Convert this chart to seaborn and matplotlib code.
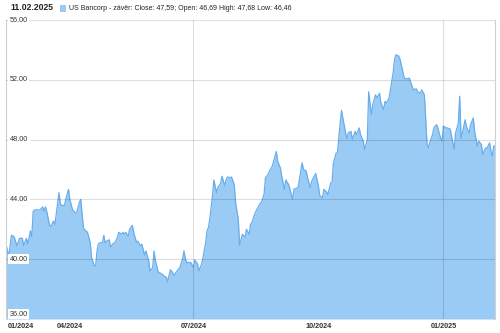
import matplotlib
matplotlib.use("Agg")
import matplotlib.pyplot as plt
import matplotlib.transforms as mtransforms
from matplotlib.patches import Rectangle
import seaborn as sns
import pandas as pd
import numpy as np

# ---------------- data ----------------
start_date = "2024-02-14"
day_offsets = [
    0, 2, 4, 6, 8, 10, 12, 13, 15, 16, 18, 19, 20, 21, 24, 25, 27, 28, 29, 30,
    32, 33, 35, 36, 38, 39, 40, 41, 43, 44, 46, 47, 49, 51, 52, 54, 55, 57, 58, 60,
    61, 62, 63, 65, 66, 67, 68, 69, 71, 72, 73, 74, 76, 77, 79, 80, 82, 83, 85, 86,
    87, 88, 90, 91, 93, 94, 96, 97, 99, 100, 102, 103, 105, 106, 108, 109, 110, 112, 113, 115,
    116, 118, 119, 121, 122, 124, 125, 127, 128, 130, 131, 132, 133, 135, 136, 138, 139, 141, 142, 144,
    145, 147, 148, 149, 150, 152, 153, 155, 156, 158, 159, 161, 162, 163, 165, 166, 168, 169, 171, 172,
    174, 176, 177, 179, 180, 181, 183, 184, 186, 187, 188, 190, 191, 193, 194, 196, 197, 199, 200, 202,
    203, 205, 206, 208, 209, 211, 212, 213, 215, 216, 218, 219, 221, 222, 224, 225, 227, 228, 230, 231,
    233, 234, 236, 237, 239, 240, 241, 243, 244, 246, 247, 248, 250, 251, 252, 254, 255, 257, 258, 260,
    261, 263, 264, 266, 267, 269, 270, 272, 273, 275, 276, 278, 279, 280, 282, 283, 285, 286, 287, 289,
    290, 291, 293, 294, 296, 297, 299, 300, 302, 303, 305, 306, 308, 309, 310, 311, 312, 314, 315, 317,
    318, 319, 320, 321, 322, 324, 325, 327, 328, 330, 331, 333, 334, 335, 336, 338, 339, 341, 342, 344,
    345, 347, 348, 350, 351, 353, 354, 356, 357, 358, 359, 360,
]
close_values = [
    41.0, 40.2, 41.6, 41.5, 40.9, 41.4, 41.4, 40.9, 41.4, 41.0, 41.9, 41.5, 43.2, 43.3, 43.3, 43.3, 43.5, 43.2, 43.5, 43.2,
    42.3, 42.2, 42.55, 42.3, 43.7, 44.45, 43.7, 43.6, 43.6, 44.0, 44.67, 44.0, 43.3, 43.1, 43.1, 43.8, 44.0, 42.1, 41.95, 41.8,
    41.45, 41.1, 40.1, 39.55, 39.55, 40.55, 41.0, 41.1, 41.1, 41.6, 41.1, 41.2, 41.3, 40.8, 41.07, 41.07, 41.45, 41.8, 41.67, 41.8,
    41.67, 41.8, 41.55, 42.0, 42.27, 41.8, 41.15, 41.2, 40.9, 41.0, 40.27, 40.55, 39.9, 39.2, 39.45, 40.55, 39.9, 39.15, 39.1, 39.0,
    38.9, 38.8, 38.5, 39.3, 39.2, 38.9, 39.1, 39.33, 39.45, 40.0, 40.55, 40.05, 39.78, 39.78, 39.78, 39.45, 39.95, 39.67, 39.22, 39.67,
    40.1, 41.1, 41.9, 42.1, 42.67, 44.2, 45.3, 44.45, 44.8, 45.07, 45.55, 44.93, 45.3, 45.5, 45.45, 45.5, 45.0, 43.8, 42.67, 40.93,
    41.67, 41.47, 42.0, 41.67, 42.33, 42.44, 43.0, 43.2, 43.55, 43.73, 43.8, 44.33, 45.45, 45.67, 45.9, 46.22, 46.55, 47.2, 46.55, 46.1,
    45.55, 44.67, 45.3, 45.0, 44.7, 44.0, 44.7, 44.7, 44.8, 45.33, 46.45, 46.0, 45.9, 45.45, 44.8, 45.2, 45.55, 45.73, 44.9, 44.25,
    44.1, 44.67, 44.5, 44.33, 45.1, 45.1, 46.4, 47.1, 47.1, 49.1, 49.95, 49.45, 48.45, 48.05, 48.45, 48.55, 48.0, 48.55, 48.33, 48.78,
    48.33, 47.9, 47.33, 48.0, 51.2, 49.67, 50.33, 51.0, 50.78, 51.1, 50.45, 50.0, 50.55, 50.45, 50.78, 51.33, 52.45, 53.33, 53.67, 53.6,
    53.4, 53.0, 52.2, 52.05, 52.1, 52.1, 51.55, 51.33, 51.4, 51.2, 51.1, 51.33, 51.0, 49.33, 47.67, 47.45, 47.8, 48.33, 48.78, 49.0,
    48.78, 48.4, 48.1, 47.9, 48.9, 48.78, 48.78, 48.7, 48.22, 47.37, 48.45, 49.1, 50.9, 48.1, 48.45, 49.33, 48.85, 48.45, 49.0, 49.45,
    48.55, 47.55, 47.9, 47.67, 47.0, 47.45, 47.4, 47.78, 47.22, 46.9, 47.55, 47.59,
]
tick_dates = ["2024-02-14", "2024-04-01", "2024-07-01", "2024-10-01", "2025-01-01"]
tick_labels = ["01/2024", "04/2024", "07/2024", "10/2024", "01/2025"]
vgrid_dates = ["2024-07-01", "2025-01-01"]
y_ticks = [36, 40, 44, 48, 52, 56]
header_date = "11.02.2025"
legend_text = "US Bancorp - závěr: Close: 47,59; Open: 46,69 High: 47,68 Low: 46,46"

assert len(day_offsets) == len(close_values), (len(day_offsets), len(close_values))

df = pd.DataFrame({
    "date": pd.Timestamp(start_date) + pd.to_timedelta(day_offsets, unit="D"),
    "close": close_values,
})

# ---------------- style ----------------
sns.set_theme(style="white")
plt.rcParams["font.family"] = ["Liberation Sans", "DejaVu Sans"]

fill_color = "#99cbf5"
line_color = "#68aeec"
grid_color = "#000000"

fig = plt.figure(figsize=(5.0, 3.33), dpi=100)
ax = fig.add_axes([6 / 500, 1 - 319 / 333, (495 - 6) / 500, (319 - 20) / 333])

ax.fill_between(df["date"], df["close"], 36, color=fill_color, lw=0, zorder=1)
sns.lineplot(data=df, x="date", y="close", ax=ax, color=line_color, lw=0.9, zorder=2)

ax.set_xlim(df["date"].iloc[0], df["date"].iloc[-1])
ax.set_ylim(y_ticks[0], y_ticks[-1])

# horizontal grid
ax.set_yticks(y_ticks)
ax.yaxis.grid(True, color=grid_color, alpha=0.13, lw=0.8, zorder=3)
ax.set_axisbelow(False)
ax.tick_params(axis="y", left=False, labelleft=False)
for d in vgrid_dates:
    ax.axvline(pd.Timestamp(d), color=grid_color, alpha=0.13, lw=0.8, zorder=3)

# y labels inside plot with white boxes
trans = mtransforms.blended_transform_factory(ax.transAxes, ax.transData)
for v in y_ticks:
    t = ax.text(0.008, v, f"{v:.2f}", transform=trans, ha="left",
                va="bottom" if v == y_ticks[0] else "center",
                fontsize=5.2, color="#333333", zorder=5,
                bbox=dict(boxstyle="square,pad=0.2", fc="white", ec="none"))
    if v == y_ticks[0]:
        t.set_transform(trans + mtransforms.ScaledTranslation(0, 1.5 / 100, fig.dpi_scale_trans))

# x ticks
ax.set_xticks([pd.Timestamp(d) for d in tick_dates])
ax.set_xticklabels(tick_labels, fontsize=5.2, fontweight="bold", color="#333333")
ax.tick_params(axis="x", bottom=False, length=0, pad=2.6)
first = ax.get_xticklabels()[0]
first.set_ha("left")
first.set_transform(first.get_transform() + mtransforms.ScaledTranslation(2 / 100, 0, fig.dpi_scale_trans))
ax.set_xlabel("")
ax.set_ylabel("")

for s in ["top", "bottom"]:
    ax.spines[s].set_visible(False)
for s in ["left", "right"]:
    ax.spines[s].set_color("#d0d0d0")
    ax.spines[s].set_linewidth(0.8)

# header
fig.text(10 / 500, 1 - 8 / 333, header_date, fontsize=6.2, fontweight="bold",
         color="#222222", ha="left", va="center")
fig.patches.append(Rectangle((60 / 500, 1 - 12 / 333), 6 / 500, 7 / 333,
                             transform=fig.transFigure, fc=fill_color, ec="none"))
fig.text(69 / 500, 1 - 8 / 333, legend_text, fontsize=5.05, color="#222222",
         ha="left", va="center")

fig.savefig("out.png", dpi=100)
